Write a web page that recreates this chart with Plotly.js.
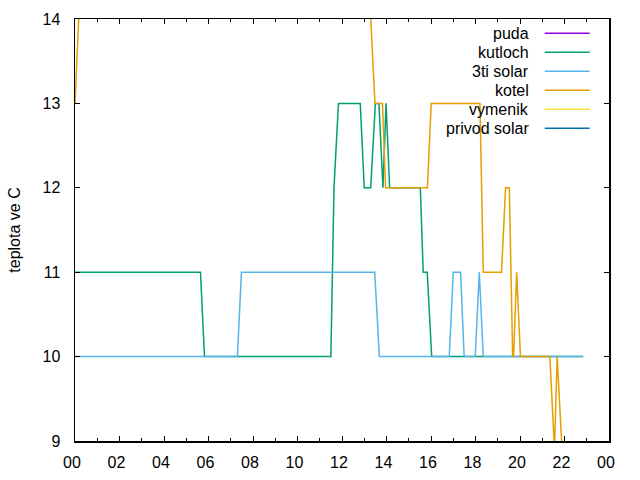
<!DOCTYPE html>
<html>
<head>
<meta charset="utf-8">
<script src="https://cdn.plot.ly/plotly-3.0.1.min.js"></script>
<style>html,body{margin:0;padding:0;background:#fff}#chart{width:640px;height:480px}</style>
</head>
<body>
<div id="chart"></div>
<script>
// time of day in hours, values in deg C
const seriesNames = ['puda', 'kutloch', '3ti solar', 'kotel', 'vymenik', 'privod solar'];
const seriesColors = ['#9400d3', '#009e73', '#56b4e9', '#e69f00', '#f0e442', '#0072b2'];

// puda, vymenik, privod solar lie outside the plotted 9..14 range (not visible)
const pudaT = [0, 12, 22.84];
const pudaV = [7, 8, 7];

const kutlochT = [0, 5.64, 5.82, 11.50, 11.64, 11.84, 12.82, 13.00, 13.29, 13.50, 13.66, 13.84, 13.98, 14.14, 15.52, 15.65, 15.83, 16.03, 22.84];
const kutlochV = [11, 11, 10, 10, 12, 13, 13, 12, 12, 13, 13, 12, 13, 12, 12, 11, 11, 10, 10];

const solar3tiT = [0, 7.30, 7.48, 13.47, 13.68, 16.82, 17.00, 17.33, 17.49, 17.99, 18.17, 18.35, 22.84];
const solar3tiV = [10, 10, 11, 11, 10, 10, 11, 11, 10, 10, 11, 10, 10];

const kotelT = [0, 0.25, 13.20, 13.48, 13.82, 13.96, 15.84, 16.01, 18.20, 18.35, 19.17, 19.35, 19.52, 19.67, 19.71, 19.85, 20.02, 21.34, 21.55, 21.67, 21.87, 21.95, 22.84];
const kotelV = [13, 14.5, 14.5, 13, 13, 12, 12, 13, 13, 11, 11, 12, 12, 10, 10, 11, 10, 10, 8.9, 10, 9, 8.5, 8.5];

const vymenikT = [0, 22.84];
const vymenikV = [30, 30];

const privodT = [0, 22.84];
const privodV = [20, 20];

const xTickVals = [0, 2, 4, 6, 8, 10, 12, 14, 16, 18, 20, 22, 24];
const xTickText = ['00', '02', '04', '06', '08', '10', '12', '14', '16', '18', '20', '22', '00'];
const xMinorVals = [1, 3, 5, 7, 9, 11, 13, 15, 17, 19, 21, 23];
const yTickVals = [9, 10, 11, 12, 13, 14];

const allT = [pudaT, kutlochT, solar3tiT, kotelT, vymenikT, privodT];
const allV = [pudaV, kutlochV, solar3tiV, kotelV, vymenikV, privodV];

const FONT = 'Liberation Sans, Arial, sans-serif';

const traces = seriesNames.map((n, i) => ({
  type: 'scatter', mode: 'lines', name: n,
  x: allT[i], y: allV[i],
  line: {color: seriesColors[i], width: 1.5},
  hoverinfo: 'skip'
}));

// gnuplot-style legend: text right-aligned, sample line to the right
const legX0 = 0.8796, legX1 = 0.9638, legTextX = 0.8548, legY0 = 0.9661, legStep = 0.04502;
const annotations = seriesNames.map((n, i) => ({
  xref: 'paper', yref: 'paper', x: legTextX, y: legY0 - i * legStep,
  xanchor: 'right', yanchor: 'middle', text: n, showarrow: false,
  font: {family: FONT, size: 16, color: '#000'}
}));
const shapes = seriesNames.map((n, i) => ({
  type: 'line', xref: 'paper', yref: 'paper',
  x0: legX0, x1: legX1, y0: legY0 - i * legStep, y1: legY0 - i * legStep,
  line: {color: seriesColors[i], width: 1.5}
}));

const layout = {
  width: 640, height: 480,
  margin: {l: 75, r: 31, t: 19, b: 39},
  paper_bgcolor: '#fff', plot_bgcolor: '#fff',
  showlegend: false,
  font: {family: FONT, size: 16, color: '#000'},
  xaxis: {
    range: [0, 24], tickmode: 'array', tickvals: xTickVals, ticktext: xTickText,
    ticks: 'inside', ticklen: 5, tickcolor: '#000', tickwidth: 1,
    minor: {tickmode: 'array', tickvals: xMinorVals, ticks: 'inside', ticklen: 3, tickcolor: '#000', showgrid: false},
    showline: true, linecolor: '#000', linewidth: 1.5, mirror: 'allticks',
    showgrid: false, zeroline: false, ticklabelstandoff: 6, ticklabelshift: -3,
    tickfont: {family: FONT, size: 16, color: '#000'}
  },
  yaxis: {
    range: [9, 14], tickmode: 'array', tickvals: yTickVals,
    ticks: 'inside', ticklen: 5, tickcolor: '#000', tickwidth: 1,
    showline: true, linecolor: '#000', linewidth: 1.5, mirror: 'allticks',
    showgrid: false, zeroline: false, ticklabelstandoff: 10,
    tickfont: {family: FONT, size: 16, color: '#000'},
    title: {text: 'teplota ve C', font: {family: FONT, size: 16, color: '#000'}, standoff: 18}
  },
  annotations: annotations,
  shapes: shapes
};

Plotly.newPlot('chart', traces, layout, {staticPlot: true});
</script>
</body>
</html>
